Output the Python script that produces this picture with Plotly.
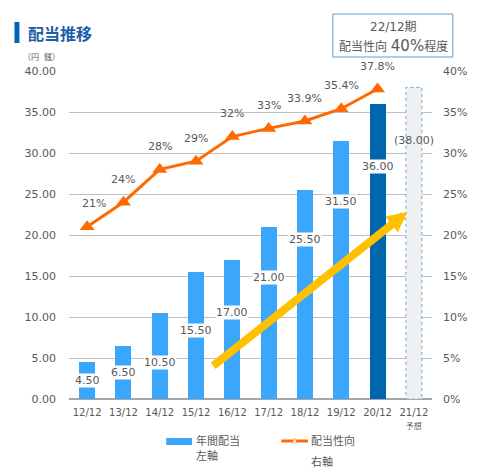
import plotly.graph_objects as go

# data
periods = ["12/12", "13/12", "14/12", "15/12", "16/12", "17/12", "18/12", "19/12", "20/12", "21/12"]
dividends = [4.50, 6.50, 10.50, 15.50, 17.00, 21.00, 25.50, 31.50, 36.00, 38.00]
payout_ratio = [0.21, 0.24, 0.28, 0.29, 0.32, 0.33, 0.339, 0.354, 0.378]
payout_labels = ["21%", "24%", "28%", "29%", "32%", "33%", "33.9%", "35.4%", "37.8%"]

# where the value labels sit inside the bars (left axis units)
label_y = [2.2, 3.2, 4.4, 8.4, 10.6, 14.8, 19.5, 24.1, 28.3, 31.5]

FONT = "Verdana, DejaVu Sans, Noto Sans CJK JP"
GREY = "#595959"
LIGHT_BLUE = "#3BA7FC"
DARK_BLUE = "#0066AE"
ORANGE = "#FF6A00"
BAR_W = 0.44

# the page body adds an 8px margin, so the figure is drawn 8px smaller
OFF = 8
W, H = 479 - OFF, 475 - OFF
L, T = 69 - OFF, 71 - OFF
R, B = W - (435 - OFF), H - (399 - OFF)
PW, PH = W - L - R, H - T - B


def px(x):
    # page pixel -> paper x
    return (x - OFF - L) / PW


def py(y):
    # page pixel -> paper y
    return (H - B - (y - OFF)) / PH


def note(x, y, text, size=11, color=GREY, xanchor="left", family=FONT):
    fig.add_annotation(xref="paper", yref="paper", x=px(x), y=py(y), text=text, showarrow=False,
                       xanchor=xanchor, yanchor="middle", font=dict(size=size, color=color, family=family))


bar_colors = [LIGHT_BLUE] * 8 + [DARK_BLUE, "#F0F0F0"]

fig = go.Figure()
fig.add_bar(x=list(range(10)), y=dividends, marker_color=bar_colors, marker_line_width=0,
            width=BAR_W, hoverinfo="skip", showlegend=False)
fig.add_scatter(x=list(range(9)), y=payout_ratio, yaxis="y2", mode="lines+markers",
                line=dict(color=ORANGE, width=3),
                marker=dict(symbol="triangle-up", size=13, color=ORANGE),
                showlegend=False)

# dashed outline of the forecast bar
fig.add_shape(type="rect", xref="x", yref="y", x0=9 - BAR_W / 2, x1=9 + BAR_W / 2,
              y0=0, y1=dividends[9], line=dict(color="#5BAEEF", width=1, dash="dot"))

# bar value labels
for i, v in enumerate(dividends):
    txt = f"{v:.2f}" if i < 9 else f"({v:.2f})"
    fig.add_annotation(x=i, y=label_y[i], text=txt, showarrow=False, xref="x", yref="y",
                       font=dict(size=11, color=GREY, family=FONT),
                       bgcolor="white" if i < 9 else "rgba(0,0,0,0)", borderpad=0)

# payout ratio labels
for i, v in enumerate(payout_ratio):
    fig.add_annotation(x=i, y=v, yref="y2", xref="x", text=payout_labels[i], showarrow=False,
                       yshift=23, xshift=7 if i == 0 else 0,
                       font=dict(size=11, color=GREY, family=FONT))

# yellow arrow
fig.add_annotation(x=8.82, y=22.8, ax=3.43, ay=3.9, xref="x", yref="y", axref="x", ayref="y",
                   text="", showarrow=True, arrowhead=2, arrowsize=0.5, arrowwidth=8,
                   arrowcolor="#FFC000", standoff=0)

# title
fig.add_shape(type="rect", xref="paper", yref="paper", x0=px(14), x1=px(19), y0=py(43), y1=py(22),
              fillcolor="#0066B3", line_width=0)
note(26, 33, "<b>配当推移</b>", size=16, color="#1B5EA8", family="Noto Sans CJK JP")

# forecast box
fig.add_shape(type="rect", xref="paper", yref="paper", x0=px(335), x1=px(456), y0=py(57), y1=py(14),
              line=dict(color="#5B9BD5", width=1), fillcolor="white")
note(396, 27, "22/12期", size=12, xanchor="center")
note(396, 46, "配当性向 <span style='font-size:15px'>40%</span>程度", size=12, xanchor="center")

# unit label
note(41, 57, "（円  銭）", size=8, xanchor="center")

# legend drawn by hand
fig.add_shape(type="rect", xref="paper", yref="paper", x0=px(167), x1=px(193), y0=py(445), y1=py(438),
              fillcolor=LIGHT_BLUE, line_width=0)
note(195, 441, "年間配当")
note(195, 456, "左軸")
fig.add_shape(type="line", xref="paper", yref="paper", x0=px(283), x1=px(310), y0=py(441), y1=py(441),
              line=dict(color=ORANGE, width=3))
fig.add_shape(type="path", xref="paper", yref="paper",
              path=f"M {px(294)} {py(443)} L {px(299)} {py(443)} L {px(296.5)} {py(438)} Z",
              fillcolor="white", line=dict(color=ORANGE, width=0.5))
note(311, 441, "配当性向")
note(311, 462, "右軸")

ticktext = periods[:9] + ["21/12<br><span style='font-size:8px'>予想</span>"]

fig.update_layout(
    width=W, height=H,
    margin=dict(l=L, r=R, t=T, b=B),
    plot_bgcolor="white", paper_bgcolor="white",
    font=dict(family=FONT, color=GREY, size=11),
    bargap=0,
    xaxis=dict(tickmode="array", tickvals=list(range(10)), ticktext=ticktext,
               range=[-0.5, 9.5], showgrid=False, zeroline=False, showline=False,
               tickfont=dict(size=10, color=GREY), ticks="", ticklabelstandoff=6),
    yaxis=dict(range=[0, 40], dtick=5, tickformat=".2f", gridcolor="#BFBFBF", gridwidth=1.3,
               zeroline=True, zerolinecolor="#A6A6A6", zerolinewidth=1.5,
               tickfont=dict(size=11, color=GREY), ticklabelstandoff=12),
    yaxis2=dict(range=[0, 0.4], dtick=0.05, tickformat=".0%", overlaying="y", side="right",
                showgrid=False, zeroline=False, tickfont=dict(size=11, color=GREY),
                ticklabelstandoff=10),
)

fig.write_html("out.html")
